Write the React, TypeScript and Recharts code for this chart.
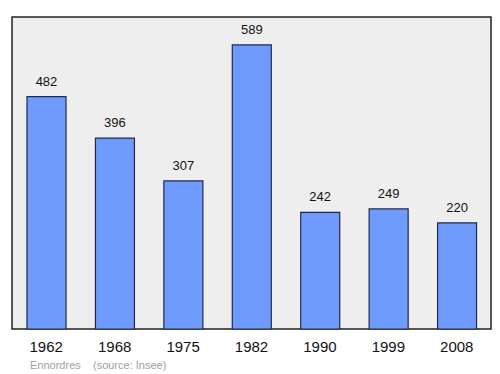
import React from 'react';
import { BarChart, Bar, XAxis, YAxis, ReferenceArea, LabelList } from 'recharts';

const years = ['1962', '1968', '1975', '1982', '1990', '1999', '2008'];
const population = [482, 396, 307, 589, 242, 249, 220];

const data = years.map((year, i) => ({ year, pop: population[i] }));

const App: React.FC = () => {
  return (
    <div style={{ position: 'absolute', left: 0, top: 0, width: 500, height: 374, background: '#fff', fontFamily: '"Liberation Sans", Arial, sans-serif' }}>
      <BarChart width={500} height={374} data={data} margin={{ top: 17, right: 3, left: 6, bottom: 0 }}>
        <YAxis hide domain={[0, 647]} />
        <XAxis
          dataKey="year"
          height={45}
          axisLine={false}
          tickLine={false}
          tickMargin={6}
          padding={{ left: 6, right: 6 }}
          tick={{ fill: '#111', fontSize: 15 }}
        />
        <ReferenceArea y1={0} y2={647} fill="#eeeeee" fillOpacity={1} stroke="#222" strokeWidth={1.5} />
        <Bar dataKey="pop" fill="#6f9bff" stroke="#1e2a4a" strokeWidth={1.2} barSize={39} isAnimationActive={false}>
          <LabelList dataKey="pop" position="top" offset={11} fill="#111" fontSize={13} />
        </Bar>
      </BarChart>
      <div style={{ position: 'absolute', left: 30, top: 359, fontSize: 11, color: '#a0a0a0', whiteSpace: 'pre' }}>
        {'Ennordres    (source: Insee)'}
      </div>
    </div>
  );
};

export default App;
